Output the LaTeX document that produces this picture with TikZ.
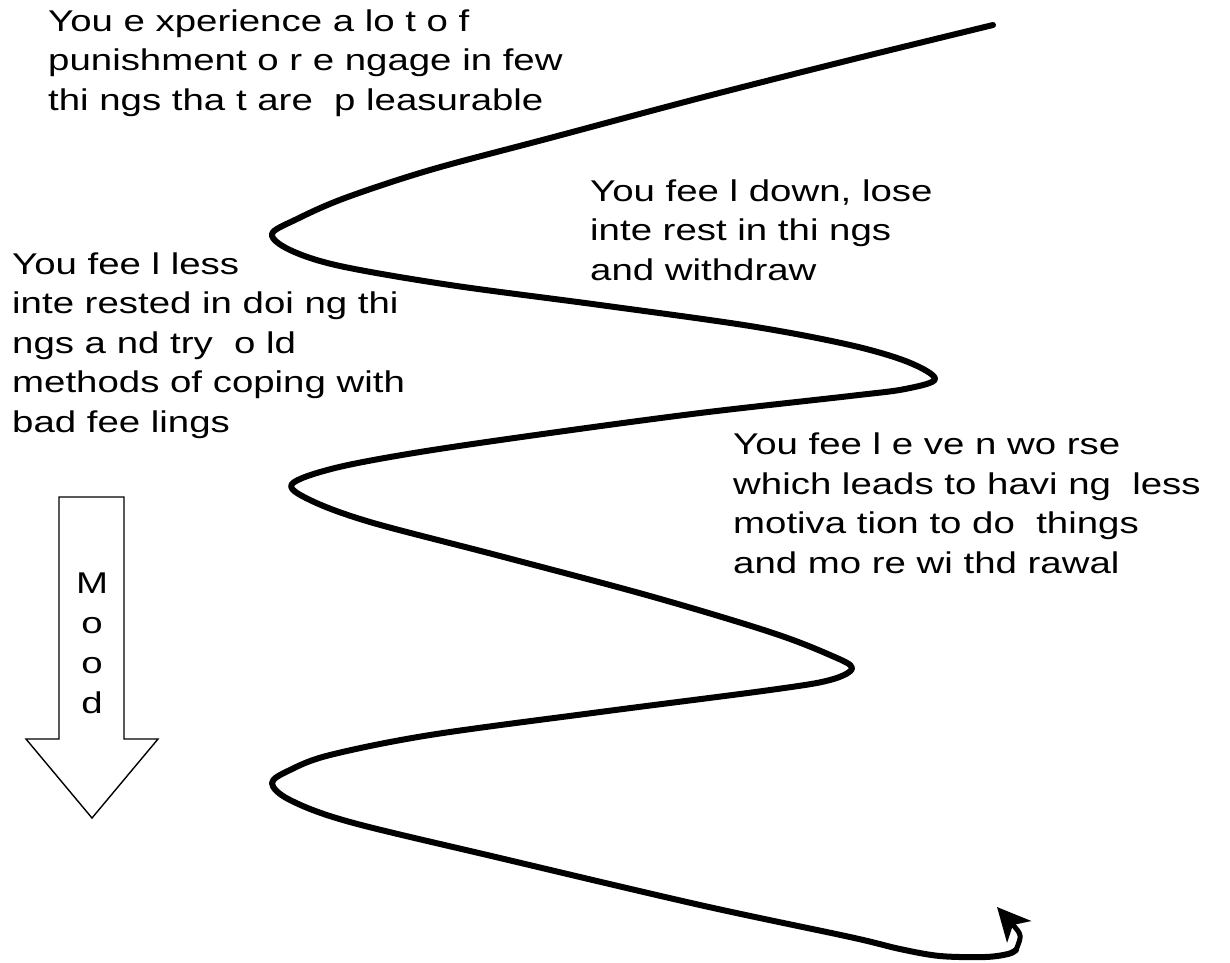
\documentclass[tikz,border=0pt]{standalone}
\usepackage{fontspec}
\setmainfont{Liberation Sans}
\newfontfamily\lab[FakeStretch=1.28]{Liberation Sans}
\usetikzlibrary{arrows.meta}
\tikzset{
  txt/.style={anchor=base west, align=left, inner sep=0pt, font=\lab\fontsize{30}{39.5}\selectfont},
  spiral/.style={line width=6pt, line join=round, line cap=round},
  moodarrow/.style={draw, line width=1.4pt, fill=white, line join=miter},
  moodletter/.style={anchor=base, inner sep=0pt, font=\lab\fontsize{30}{40}\selectfont}
}
\begin{document}
\begin{tikzpicture}[x=1pt,y=-1pt]
\useasboundingbox (0,0) rectangle (1230,962);
% texts (anchored at the baseline of their last line)
\node[txt] (t1) at (48,110) {You e xperience a lo t o f\\punishment o r e ngage in few\\thi ngs tha t are \ p leasurable};
\node[txt] (t2) at (12,432) {You fee l less\\inte rested in doi ng thi\\ngs a nd try \ o ld\\methods of coping with\\bad fee lings};
\node[txt] (t3) at (590,280) {You fee l down, lose\\inte rest in thi ngs\\and withdraw};
\node[txt] (t4) at (733,573) {You fee l e ve n wo rse\\which leads to havi ng \ less\\motiva tion to do \ things\\and mo re wi thd rawal};
% mood arrow
\draw[moodarrow] (59,497) -- (124,497) -- (124,739) -- (158,739) -- (92,818) -- (26,739) -- (59,739) -- cycle;
\node[moodletter] (m1) at (92,593) {M};
\node[moodletter] (m2) at (92,633) {o};
\node[moodletter] (m3) at (92,673) {o};
\node[moodletter] (m4) at (92,713) {d};
% spiral
\coordinate (hook) at (1016,950);
\coordinate (arrowtip) at (997,907);
\draw[spiral] plot[smooth, tension=0.55] coordinates {
 (993,25) (850,60) (700,98) (550,138) (430,170) (345,198) (297,219) (272,234)
 (290,250) (340,266) (450,285) (600,305) (750,326) (850,345) (908,362) (935,379)
 (905,389) (850,396) (700,413) (550,433) (420,452) (335,468) (292,484)
 (310,500) (370,522) (500,556) (650,596) (770,632) (830,655) (852,668)
 (830,680) (770,690) (600,712) (430,735) (330,755) (290,770) (272,783)
 (290,800) (350,822) (500,858) (700,905) (850,937) (900,949) (940,956) (985,957) (1008,954) (1016,950)};
\draw[line width=5pt, -{Stealth[length=33pt,width=32pt,inset=9pt]}] (hook) .. controls (1022,935) .. (arrowtip);
\end{tikzpicture}
\end{document}
